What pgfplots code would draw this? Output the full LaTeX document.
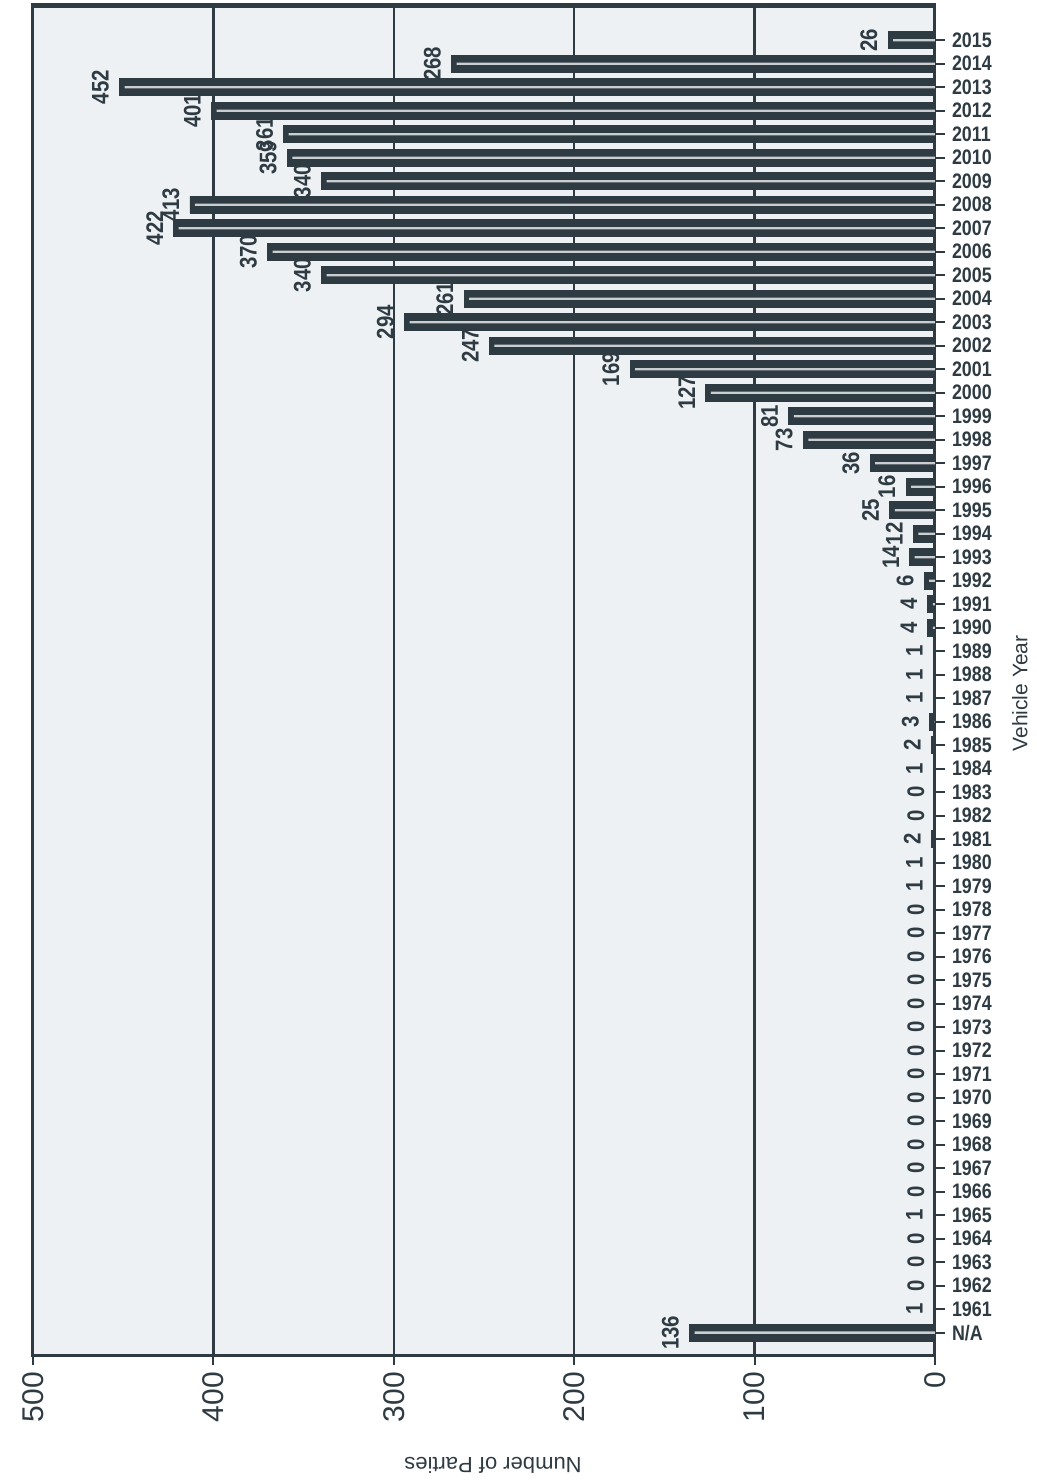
\documentclass[border=0pt]{standalone}
\usepackage{fontspec}
\setmainfont{Liberation Sans}
\newfontfamily\narrowfont{Liberation Sans}[FakeStretch=0.85]
\usepackage{pgfplots}
\usepackage{pgfplotstable}
\pgfplotsset{compat=1.18}
\definecolor{barc}{HTML}{2E3B43}
\definecolor{bgc}{HTML}{EEF1F3}
\pgfplotstableread{
idx val
0 136
1 1
2 0
3 0
4 0
5 1
6 0
7 0
8 0
9 0
10 0
11 0
12 0
13 0
14 0
15 0
16 0
17 0
18 0
19 1
20 1
21 2
22 0
23 0
24 1
25 2
26 3
27 1
28 1
29 1
30 4
31 4
32 6
33 14
34 12
35 25
36 16
37 36
38 73
39 81
40 127
41 169
42 247
43 294
44 261
45 340
46 370
47 422
48 413
49 340
50 359
51 361
52 401
53 452
54 268
55 26
}\datatable
\begin{document}
\begin{tikzpicture}
\useasboundingbox (-16.5pt,-64.5pt) rectangle (502pt,677.5pt);
\begin{axis}[
  scale only axis, width=451pt, height=675pt,
  at={(0,0)}, anchor=south west,
  /pgf/number format/assume math mode=true,
  x dir=reverse, xmin=0, xmax=500, ymin=-0.95, ymax=56.5,
  xtick={0,100,...,500},
  xmajorgrids, major grid style={barc, line width=1.2pt},
  ytick={0,...,55},
  yticklabels={N/A,1961,1962,1963,1964,1965,1966,1967,1968,1969,1970,1971,1972,1973,1974,1975,1976,1977,1978,1979,1980,1981,1982,1983,1984,1985,1986,1987,1988,1989,1990,1991,1992,1993,1994,1995,1996,1997,1998,1999,2000,2001,2002,2003,2004,2005,2006,2007,2008,2009,2010,2011,2012,2013,2014,2015},
  tick align=outside, xtick pos=left, ytick pos=right,
  major tick length=5pt,
  tick style={barc, line width=1pt},
  axis line style={barc, line width=1.5pt},
  axis background/.style={fill=bgc},
  xticklabel style={rotate=90, anchor=east, font=\fontsize{15}{15}\selectfont, text=barc},
  yticklabel style={font=\narrowfont\bfseries\fontsize{10.5}{12}\selectfont, text=barc},
  xlabel={Number of Parties},
  xlabel style={at={(axis description cs:0.51,0)}, yshift=-55pt, anchor=center, rotate=180, font=\fontsize{11}{13}\selectfont, text=barc},
  ylabel={Vehicle Year},
  ylabel style={at={(axis description cs:1,0.49)}, yshift=-42.5pt, anchor=center, font=\fontsize{10.5}{12}\selectfont, text=barc},
  clip=true,
]
\addplot[xbar, bar shift=0pt, bar width=8.5pt, fill=barc, draw=barc,
  point meta=x, nodes near coords,
  every node near coord/.append style={rotate=90, anchor=south, outer sep=2pt, font=\narrowfont\bfseries\fontsize{12}{12}\selectfont, text=barc}]
  table[x=val, y=idx] {\datatable};
\addplot[xbar, bar shift=0pt, bar width=1.2pt, fill=white!75!barc, draw=none, xshift=2.5pt, forget plot]
  table[x=val, y=idx] {\datatable};
\draw[barc, line width=3pt] (rel axis cs:0,1) -- (rel axis cs:1,1);
\end{axis}
\end{tikzpicture}
\end{document}
